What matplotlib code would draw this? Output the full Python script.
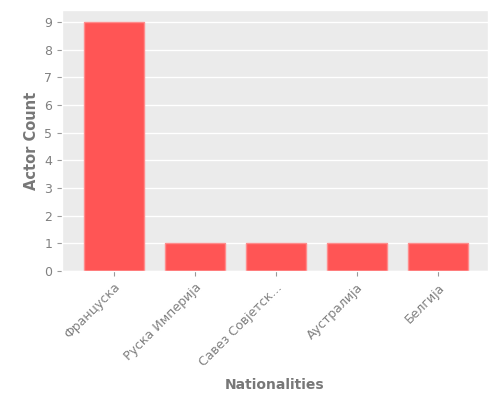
import matplotlib
matplotlib.use("Agg")
import matplotlib.pyplot as plt

plt.style.use("ggplot")

nationalities = ["Француска", "Руска Империја", "Савез Совјетск...", "Аустралија", "Белгија"]
actor_counts = [9, 1, 1, 1, 1]

fig = plt.figure(figsize=(5, 4), dpi=100)
ax = fig.add_axes([0.124, 0.3225, 0.852, 0.6525])
ax.set_facecolor("#EBEBEB")

x = range(len(nationalities))
ax.bar(x, actor_counts, width=0.74, color="#FF5555", edgecolor="#FF8C8C", linewidth=1)

ax.set_xlim(-0.64, 4.62)
ax.set_ylim(0, 9.43)
ax.set_yticks(range(10))
ax.set_xticks(list(x))
ax.set_xticklabels(nationalities, rotation=45, ha="right", rotation_mode="anchor")
ax.tick_params(axis="both", colors="#999999", labelsize=9, labelcolor="#808080")
ax.grid(axis="x", visible=False)
ax.grid(axis="y", color="white", linewidth=1)

ax.set_ylabel("Actor Count", fontsize=10.5, color="#777777", fontweight="semibold")
ax.set_xlabel("Nationalities", fontsize=10, color="#777777", fontweight="semibold", labelpad=7)

fig.savefig("out.png", dpi=100)
